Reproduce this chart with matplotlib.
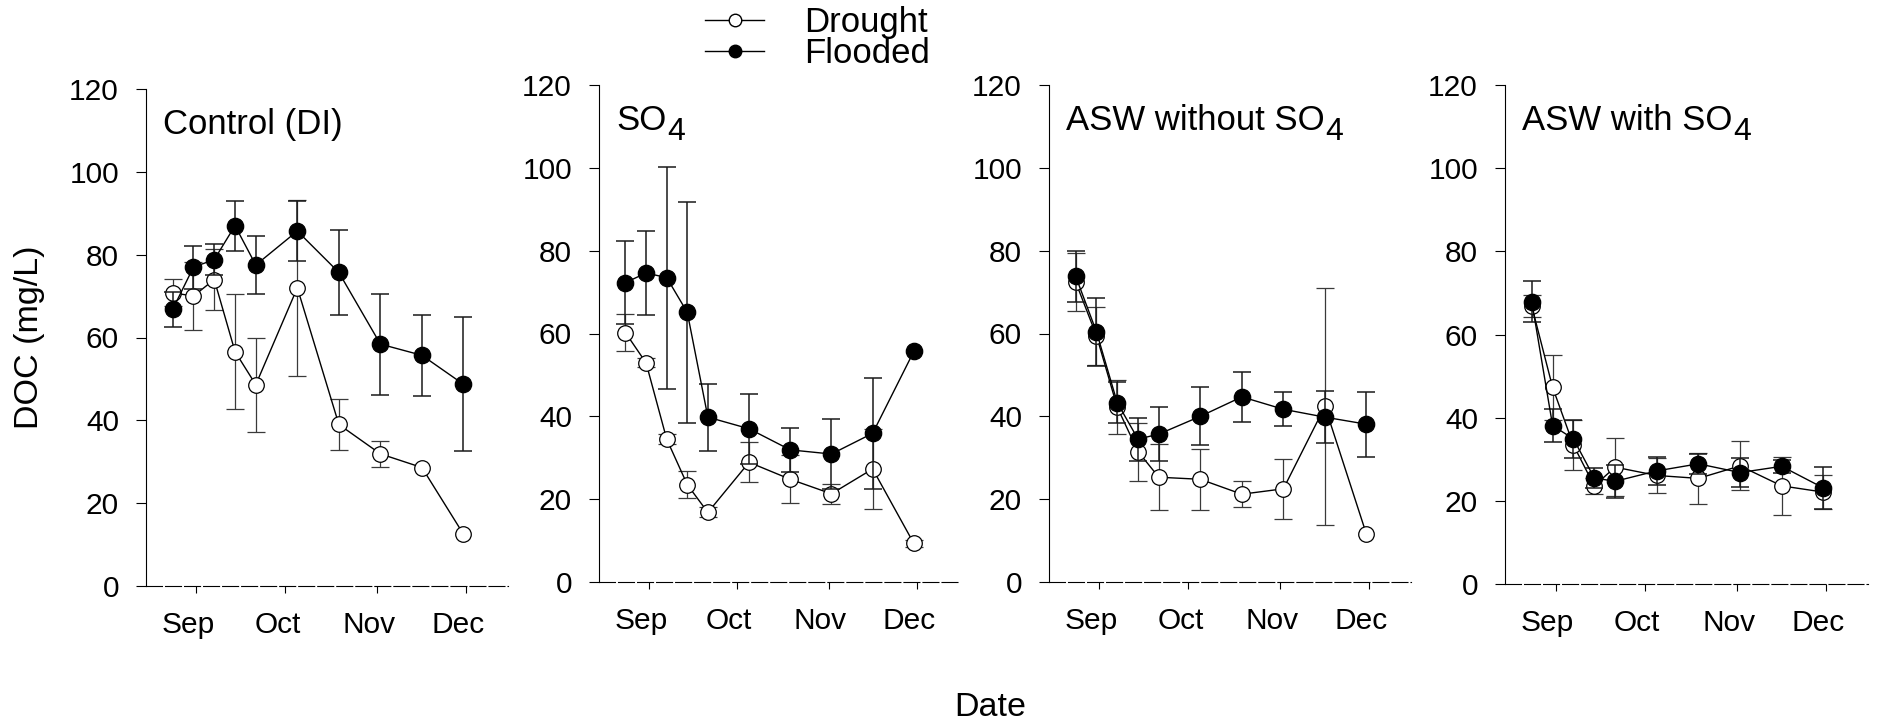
import numpy as np
import matplotlib
matplotlib.use('Agg')
import matplotlib.pyplot as plt
import matplotlib.dates as mdates
from matplotlib.lines import Line2D
from matplotlib.transforms import ScaledTranslation

plt.rcParams['font.family'] = ['Liberation Sans', 'DejaVu Sans']
plt.rcParams['lines.scale_dashes'] = False

# sampling dates (weekly, then every two weeks)
dates = np.array(['2015-08-24', '2015-08-31', '2015-09-07', '2015-09-14', '2015-09-21',
                  '2015-10-05', '2015-10-19', '2015-11-02', '2015-11-16', '2015-11-30'],
                 dtype='datetime64[D]')

# panel titles: main text and subscript
titles = ['Control (DI)', 'SO', 'ASW without SO', 'ASW with SO']
title_subs = ['', '4', '4', '4']

# DOC (mg/L), mean and error
ctrl_drought      = [70.8, 70.0, 74.0, 56.6, 48.6, 72.0, 39.0, 31.9, 28.6, 12.5]
ctrl_drought_err  = [3.3, 8.3, 7.3, 13.8, 11.4, 21.2, 6.2, 3.2, 0, 0]
ctrl_flooded      = [66.8, 77.0, 78.8, 87.0, 77.5, 85.7, 75.7, 58.4, 55.7, 48.7]
ctrl_flooded_err  = [4.2, 5.2, 3.7, 6.0, 7.1, 7.3, 10.2, 12.2, 9.8, 16.2]

so4_drought       = [60.2, 52.9, 34.5, 23.5, 16.8, 28.9, 24.8, 21.3, 27.3, 9.3]
so4_drought_err   = [4.4, 1.1, 1.2, 3.3, 1.2, 4.8, 5.8, 2.4, 9.7, 0.9]
so4_flooded       = [72.3, 74.6, 73.5, 65.1, 39.8, 37.0, 31.9, 30.9, 35.9, 55.7]
so4_flooded_err   = [10.0, 10.2, 26.8, 26.7, 8.1, 8.4, 5.4, 8.5, 13.4, 0]

asw_drought       = [72.4, 59.5, 42.2, 31.5, 25.3, 24.8, 21.2, 22.5, 42.4, 11.5]
asw_drought_err   = [7.0, 7.0, 6.5, 7.0, 8.0, 7.3, 3.1, 7.2, 28.6, 0]
asw_flooded       = [73.8, 60.4, 43.3, 34.5, 35.7, 40.0, 44.7, 41.7, 39.8, 38.1]
asw_flooded_err   = [6.2, 8.2, 5.0, 5.2, 6.5, 7.0, 6.1, 4.1, 6.2, 7.8]

asws_drought      = [66.8, 47.3, 33.4, 23.6, 28.1, 26.1, 25.4, 28.4, 23.6, 22.1]
asws_drought_err  = [2.7, 7.8, 6.0, 2.0, 7.0, 4.2, 6.1, 5.9, 6.9, 4.0]
asws_flooded      = [67.9, 38.1, 34.9, 25.5, 24.7, 27.2, 28.9, 26.8, 28.3, 23.1]
asws_flooded_err  = [5.0, 4.0, 4.5, 2.3, 4.0, 3.3, 2.4, 3.4, 1.5, 5.1]

panels = [
    (ctrl_drought, ctrl_drought_err, ctrl_flooded, ctrl_flooded_err),
    (so4_drought, so4_drought_err, so4_flooded, so4_flooded_err),
    (asw_drought, asw_drought_err, asw_flooded, asw_flooded_err),
    (asws_drought, asws_drought_err, asws_flooded, asws_flooded_err),
]

W, H = 1878, 724
# axes boxes in pixels: left, top, right, bottom
boxes = [(146, 89, 508, 586), (599, 85, 958, 582), (1049, 85, 1411, 582), (1505, 85, 1868, 584)]

fig = plt.figure(figsize=(W / 100, H / 100), dpi=100)


def draw_series(ax, vals, err, filled, z):
    vals = np.asarray(vals, float)
    err = np.asarray(err, float)
    m = err > 0
    ax.errorbar(dates[m], vals[m], yerr=err[m], fmt='none',
                ecolor='#1a1a1a' if filled else '#3a3a3a',
                elinewidth=1.1 if filled else 0.9, capsize=6.8,
                capthick=1.1 if filled else 0.9, zorder=z)
    ax.plot(dates, vals, '-o', color='black', lw=1.0,
            mfc='black' if filled else 'white', mec='black', mew=0.9,
            ms=11.8 if filled else 11.2, zorder=z + 1)


for box, title, sub, data in zip(boxes, titles, title_subs, panels):
    l, t, r, b = box
    ax = fig.add_axes([l / W, 1 - b / H, (r - l) / W, (b - t) / H])
    d, de, f, fe = data
    draw_series(ax, d, de, False, 2)
    draw_series(ax, f, fe, True, 4)

    ax.set_ylim(0, 120)
    ax.set_yticks(range(0, 121, 20))
    ax.set_xlim(np.datetime64('2015-08-15'), np.datetime64('2015-12-15'))
    ax.xaxis.set_major_locator(mdates.MonthLocator(bymonth=[9, 10, 11, 12]))
    ax.xaxis.set_major_formatter(mdates.DateFormatter('%b'))

    for s in ['top', 'right']:
        ax.spines[s].set_visible(False)
    ax.spines['left'].set_linewidth(0.8)
    ax.spines['bottom'].set_linewidth(0.8)
    ax.spines['bottom'].set_linestyle((0, (11.5, 2.2)))

    ax.tick_params(axis='y', direction='out', length=7.5, width=0.8, labelsize=21.5, pad=12)
    ax.tick_params(axis='x', direction='out', length=5, width=0.8, labelsize=21.5, pad=13)
    for lab in ax.get_xticklabels():
        lab.set_transform(lab.get_transform() + ScaledTranslation(-0.08, 0, fig.dpi_scale_trans))

    txt = ax.text(0.048, 0.91, title, transform=ax.transAxes, fontsize=25,
                  ha='left', va='baseline')
    if sub:
        ax.annotate(sub, xy=(1, 0), xycoords=txt, xytext=(0.5, -2.5),
                    textcoords='offset points', fontsize=23, ha='left', va='baseline')

fig.text(30 / W, 1 - 337 / H, 'DOC (mg/L)', rotation=90, fontsize=24.5, ha='center', va='center')
fig.text(990 / W, 1 - 707 / H, 'Date', fontsize=24.5, ha='center', va='center')

handles = [Line2D([], [], color='black', lw=1.0, marker='o', mfc='white', mec='black', ms=9),
           Line2D([], [], color='black', lw=1.0, marker='o', mfc='black', mec='black', ms=9)]
fig.legend(handles, ['Drought', 'Flooded'], loc='upper left', bbox_to_anchor=(705 / W, 1 - 6 / H),
           frameon=False, fontsize=25, handlelength=1.7, handletextpad=1.15,
           labelspacing=-0.06, borderpad=0, borderaxespad=0)

fig.savefig('out.png', dpi=100)
